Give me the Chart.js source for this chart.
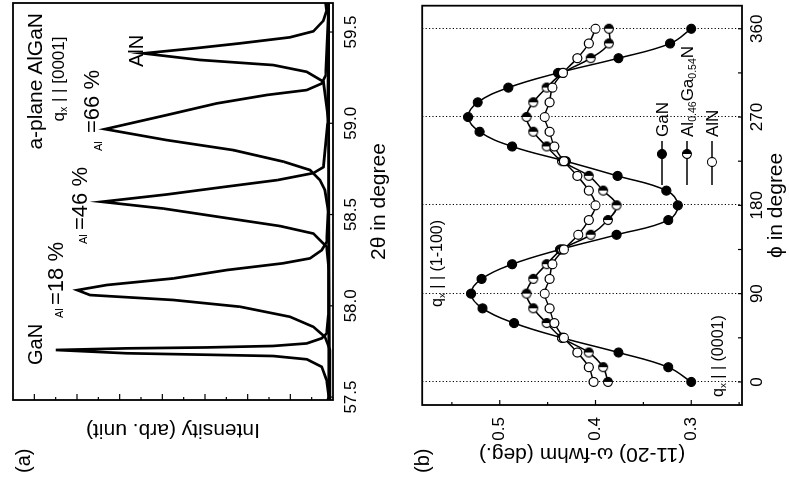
<!DOCTYPE html>
<html><head><meta charset="utf-8">
<script src="https://cdn.jsdelivr.net/npm/chart.js@4.4.1/dist/chart.umd.min.js"></script>
<style>
html,body{margin:0;padding:0;background:#fff;overflow:hidden;width:789px;height:482px;}
#fig{position:absolute;left:0;top:0;width:482px;height:789px;transform-origin:0 0;transform:translateY(482px) rotate(-90deg);background:#fff;font-family:'Liberation Sans Narrow','Liberation Sans',Arial,sans-serif;color:#000;}
.lbl{position:absolute;white-space:nowrap;line-height:1;}
.lbl sub{font-size:0.62em;line-height:0;vertical-align:-0.3em;}
canvas{position:absolute;left:0;}
</style></head>
<body>
<div id="fig">
<canvas id="ca" width="482" height="400" style="top:0;width:482px;height:400px"></canvas>
<canvas id="cb" width="482" height="389" style="top:400px;width:482px;height:389px"></canvas>
</div>
<script>
// ---------- Panel (a): XRD 2theta scans (intensity in arbitrary log units) ----------
const tt_GaN = [57.484, 57.500, 57.593, 57.666, 57.707, 57.725, 57.732, 57.740, 57.758, 57.767, 57.772, 57.780, 57.794, 57.822, 57.849, 57.950, 58.400, 59.000, 59.659];
const in_GaN = [0.25, 0.20, 0.30, 0.53, 1.23, 2.81, 5.92, 9.67, 12.99, 9.67, 5.92, 2.81, 1.23, 0.53, 0.30, 0.22, 0.20, 0.20, 0.20];
const tt_Al18 = [57.484, 57.758, 57.830, 57.885, 57.940, 57.995, 58.032, 58.059, 58.086, 58.114, 58.150, 58.196, 58.233, 58.260, 58.305, 58.350, 58.600, 59.659];
const in_Al18 = [0.15, 0.14, 0.38, 0.92, 2.02, 4.36, 7.49, 11.39, 11.99, 10.61, 7.49, 4.98, 2.34, 1.08, 0.53, 0.30, 0.20, 0.20];
const tt_Al46 = [57.484, 58.200, 58.323, 58.396, 58.437, 58.478, 58.533, 58.570, 58.610, 58.650, 58.689, 58.727, 58.760, 59.000, 59.659];
const in_Al46 = [0.18, 0.20, 0.30, 0.92, 2.48, 4.83, 7.96, 10.84, 7.80, 5.20, 2.60, 0.92, 0.45, 0.25, 0.20];
const tt_Al66 = [57.484, 58.500, 58.634, 58.689, 58.744, 58.790, 58.853, 58.908, 58.968, 59.045, 59.109, 59.155, 59.182, 59.218, 59.260, 59.659];
const in_Al66 = [0.18, 0.20, 0.38, 0.61, 1.08, 2.33, 4.67, 7.80, 10.69, 7.80, 5.45, 3.11, 1.23, 0.53, 0.35, 0.20];
const tt_AlN = [57.484, 59.000, 59.228, 59.282, 59.319, 59.347, 59.383, 59.412, 59.438, 59.471, 59.504, 59.562, 59.616, 59.659];
const in_AlN = [0.18, 0.20, 0.45, 1.23, 2.80, 6.24, 8.89, 6.39, 4.36, 2.02, 0.92, 0.45, 0.30, 0.35];
const ticks2Theta = [57.5, 58.0, 58.5, 59.0, 59.5];
const ticksIntensity = [1,2,3,4,5,6,7,8,9,10,11,12,13,14];

// ---------- Panel (b): (11-20) omega-FWHM vs phi ----------
const phi = [0,15,30,45,60,75,90,105,120,135,150,165,180,195,210,225,240,255,270,285,300,315,330,345,360];
const fwhm_GaN   = [0.300,0.324,0.376,0.435,0.485,0.518,0.530,0.519,0.487,0.437,0.378,0.324,0.314,0.326,0.377,0.431,0.487,0.521,0.533,0.523,0.491,0.439,0.376,0.322,0.300];
const fwhm_AlGaN = [0.387,0.392,0.407,0.435,0.451,0.465,0.472,0.465,0.451,0.435,0.405,0.387,0.378,0.392,0.407,0.435,0.451,0.465,0.472,0.465,0.451,0.434,0.405,0.386,0.386];
const fwhm_AlN   = [0.402,0.407,0.419,0.433,0.443,0.448,0.453,0.448,0.445,0.433,0.418,0.407,0.400,0.407,0.419,0.433,0.443,0.448,0.453,0.448,0.445,0.434,0.419,0.407,0.400];
const ticksPhiLabeled = [0,90,180,270,360];
const ticksPhiAll = [0,45,90,135,180,225,270,315,360];
const ticksFwhmLabeled = [0.3,0.4,0.5];
const ticksFwhmAll = [0.25,0.3,0.35,0.4,0.45,0.5,0.55];

const FONT = "'Liberation Sans Narrow','Liberation Sans',Arial,sans-serif";
Chart.defaults.font.family = FONT;
Chart.defaults.color = '#000';

const xy = (xs, ys) => xs.map((x, i) => ({x, y: ys[i]}));

function frameTicks(cfg) {
  return {
    id: 'frameTicks',
    beforeDatasetsDraw(chart) {
      if (!cfg.dotted) return;
      const {ctx, chartArea: a, scales} = chart;
      ctx.save();
      ctx.strokeStyle = '#000'; ctx.lineWidth = 1; ctx.setLineDash([1.2, 2.2]);
      cfg.dotted.forEach(v => {
        const px = Math.round(scales.x.getPixelForValue(v)) + 0.5;
        ctx.beginPath(); ctx.moveTo(px, a.top); ctx.lineTo(px, a.bottom); ctx.stroke();
      });
      ctx.restore();
    },
    afterDatasetsDraw(chart) {
      const {ctx, chartArea: a, scales} = chart;
      ctx.save();
      ctx.strokeStyle = '#000'; ctx.lineWidth = 1.8;
      ctx.strokeRect(a.left, a.top, a.right - a.left, a.bottom - a.top);
      ctx.lineWidth = 1.2;
      cfg.xTicks.forEach(t => {
        const px = scales.x.getPixelForValue(t.v);
        ctx.beginPath(); ctx.moveTo(px, a.bottom); ctx.lineTo(px, a.bottom - t.len); ctx.stroke();
      });
      cfg.yTicks.forEach(t => {
        const py = scales.y.getPixelForValue(t.v);
        ctx.beginPath(); ctx.moveTo(a.left, py); ctx.lineTo(a.left + t.len, py); ctx.stroke();
      });
      if (cfg.legend) cfg.legend(ctx);
      ctx.restore();
    }
  };
}

function halfMarker(r) {
  const s = Math.ceil(2 * r + 3);
  const c = document.createElement('canvas'); c.width = s; c.height = s;
  const g = c.getContext('2d'); const cx = s / 2, cy = s / 2;
  g.beginPath(); g.arc(cx, cy, r, 0, 2 * Math.PI); g.fillStyle = '#fff'; g.fill();
  g.beginPath(); g.moveTo(cx, cy); g.arc(cx, cy, r, -Math.PI / 2, Math.PI / 2); g.closePath(); g.fillStyle = '#000'; g.fill();
  g.beginPath(); g.arc(cx, cy, r, 0, 2 * Math.PI); g.lineWidth = 1.2; g.strokeStyle = '#000'; g.stroke();
  return c;
}
const HALF = halfMarker(4.5);

const lineDs = (data) => ({data, borderColor: '#000', borderWidth: 2.7, pointRadius: 0, tension: 0, fill: false});

new Chart(document.getElementById('ca'), {
  type: 'line',
  data: {datasets: [
    lineDs(xy(tt_GaN, in_GaN)), lineDs(xy(tt_Al18, in_Al18)), lineDs(xy(tt_Al46, in_Al46)),
    lineDs(xy(tt_Al66, in_Al66)), lineDs(xy(tt_AlN, in_AlN))
  ]},
  options: {
    responsive: false, animation: false, devicePixelRatio: 1,
    layout: {padding: {left: 0, right: 3, top: 13, bottom: 0}},
    plugins: {legend: {display: false}, tooltip: {enabled: false}},
    scales: {
      x: {type: 'linear', min: 57.484, max: 59.659,
          grid: {display: false, drawTicks: false}, border: {display: false},
          afterBuildTicks: s => { s.ticks = ticks2Theta.map(v => ({value: v})); },
          afterFit: s => { s.height = 67; },
          ticks: {font: {size: 17}, padding: 8, maxRotation: 0, autoSkip: false, callback: v => Number(v).toFixed(1)},
          title: {display: true, text: '2θ in degree', font: {size: 21}, padding: {top: 0, bottom: 8}}},
      y: {type: 'linear', min: 0, max: 15,
          grid: {display: false, drawTicks: false}, border: {display: false},
          afterFit: s => { s.width = 82; },
          ticks: {display: false},
          title: {display: true, text: 'Intensity (arb. unit)', font: {size: 21}, padding: {top: 40, bottom: 0}}}
    }
  },
  plugins: [frameTicks({
    xTicks: ticks2Theta.map(v => ({v, len: 4})),
    yTicks: ticksIntensity.map(v => ({v, len: v % 2 === 0 ? 6 : 3}))
  })]
});

const LEG_ROWS = [
  {y: 262, kind: 'fill', mx: 328},
  {y: 287, kind: 'half', mx: 328},
  {y: 312, kind: 'open', mx: 320}
];
function drawLegend(ctx) {
  LEG_ROWS.forEach(r => {
    ctx.lineWidth = 1.4; ctx.strokeStyle = '#000'; ctx.setLineDash([]);
    ctx.beginPath(); ctx.moveTo(297, r.y); ctx.lineTo(341, r.y); ctx.stroke();
    if (r.kind === 'half') { ctx.drawImage(HALF, r.mx - HALF.width / 2, r.y - HALF.height / 2); return; }
    ctx.beginPath(); ctx.arc(r.mx, r.y, 4.5, 0, 2 * Math.PI);
    ctx.fillStyle = r.kind === 'fill' ? '#000' : '#fff'; ctx.fill(); ctx.lineWidth = 1.2; ctx.stroke();
  });
}

const ptDs = (data, style, bg) => ({data, borderColor: '#000', borderWidth: 1.5, tension: 0.4,
  pointStyle: style, pointRadius: 4.5, pointBackgroundColor: bg, pointBorderColor: '#000', pointBorderWidth: 1.2, fill: false});

new Chart(document.getElementById('cb'), {
  type: 'line',
  data: {datasets: [
    ptDs(xy(phi, fwhm_AlN), 'circle', '#fff'),
    ptDs(xy(phi, fwhm_AlGaN), HALF, '#fff'),
    ptDs(xy(phi, fwhm_GaN), 'circle', '#000')
  ]},
  options: {
    responsive: false, animation: false, devicePixelRatio: 1,
    layout: {padding: {left: 0, right: 3, top: 15, bottom: 0}},
    plugins: {legend: {display: false}, tooltip: {enabled: false}},
    scales: {
      x: {type: 'linear', min: -23.5, max: 383.5,
          grid: {display: false, drawTicks: false}, border: {display: false},
          afterBuildTicks: s => { s.ticks = ticksPhiLabeled.map(v => ({value: v})); },
          afterFit: s => { s.height = 47; },
          ticks: {font: {size: 17}, padding: 5, maxRotation: 0, autoSkip: false},
          title: {display: true, text: 'ϕ in degree', font: {size: 21}, padding: {top: 0, bottom: 0}}},
      y: {type: 'linear', min: 0.247, max: 0.581,
          grid: {display: false, drawTicks: false}, border: {display: false},
          afterBuildTicks: s => { s.ticks = ticksFwhmLabeled.map(v => ({value: v})); },
          afterFit: s => { s.width = 77; },
          ticks: {font: {size: 17}, padding: 12, callback: v => Number(v).toFixed(1)},
          title: {display: true, text: '(11-20) ω-fwhm (deg.)', font: {size: 21}, padding: {top: 16, bottom: 0}}}
    }
  },
  plugins: [frameTicks({
    dotted: ticksPhiLabeled,
    xTicks: ticksPhiAll.map(v => ({v, len: 4})),
    yTicks: ticksFwhmAll.map(v => ({v, len: Math.round(v * 100) % 10 === 0 ? 5 : 3})),
    legend: drawLegend
  })]
});

// ---------- text annotations (figure coordinates before rotation) ----------
const fig = document.getElementById('fig');
function label(html, x, base, size, align) {
  const d = document.createElement('div');
  d.className = 'lbl'; d.innerHTML = html;
  d.style.fontSize = size + 'px';
  d.style.top = (base - 0.85 * size) + 'px';
  if (align === 'right') d.style.right = (482 - x) + 'px';
  else if (align === 'center') { d.style.left = x + 'px'; d.style.transform = 'translateX(-50%)'; }
  else d.style.left = x + 'px';
  fig.appendChild(d);
}
label('(a)', 9, 30, 20);
label('(b)', 9, 429, 20);
label('a-plane AlGaN', 469, 42, 21, 'right');
label('q<sub>x</sub> | | [0001]', 403, 64, 17, 'center');
label('GaN', 117, 42, 20);
label('Al', 164, 63, 11); label('=18 %', 177, 64, 22);
label('Al', 238, 87, 11); label('=46 %', 252, 88, 22);
label('Al', 331, 102, 11); label('=66 %', 349, 100, 22);
label('AlN', 415, 143, 20);
label('q<sub>x</sub> | | (1-100)', 175, 443, 16);
label('q<sub>x</sub> | | (0001)', 85, 724, 16);
label('GaN', 345, 668, 17);
label('Al<sub>0.46</sub>Ga<sub>0.54</sub>N', 345, 693, 17);
label('AlN', 345, 718, 17);
</script>
</body></html>
